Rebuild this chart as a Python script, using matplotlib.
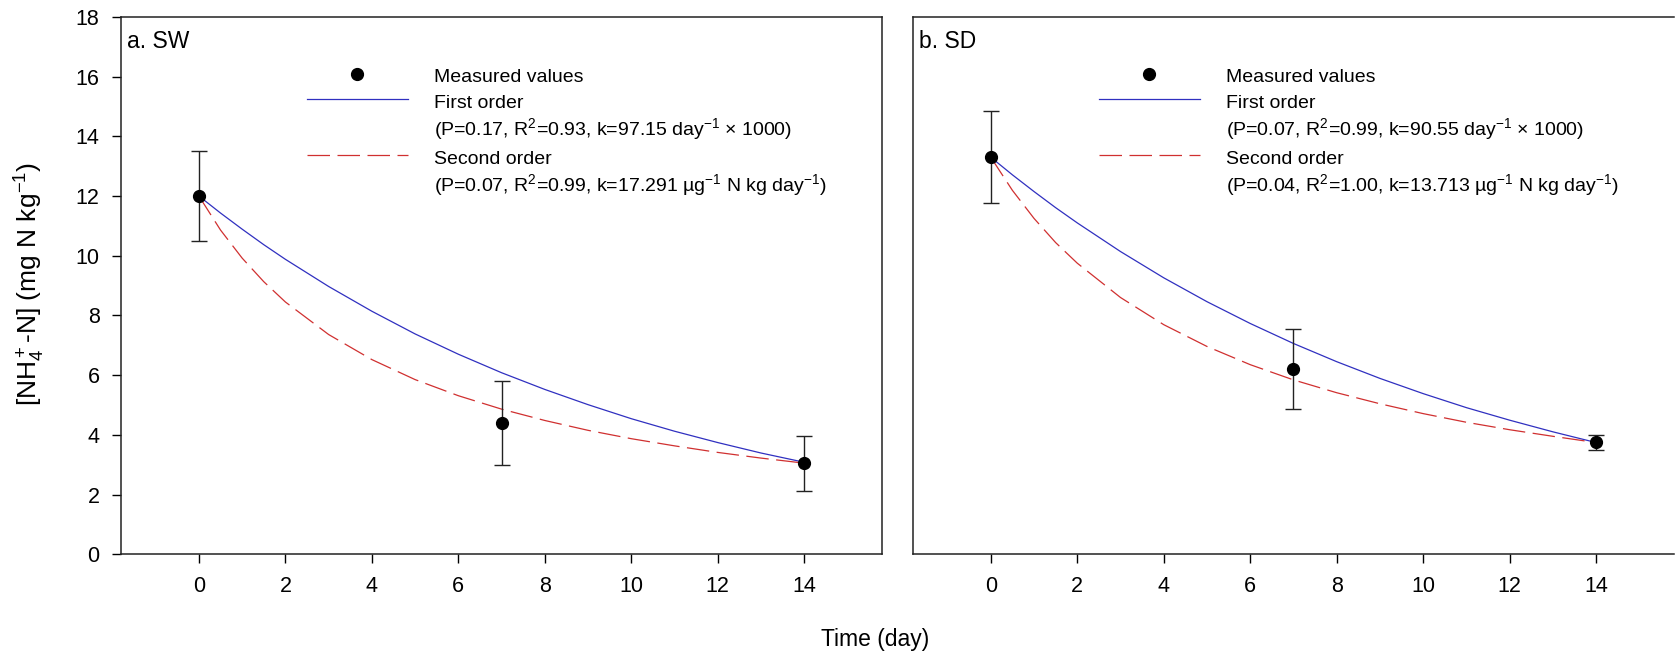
import numpy as np
import matplotlib
matplotlib.use("Agg")
import matplotlib.pyplot as plt
from matplotlib.lines import Line2D

plt.rcParams["font.family"] = ["Liberation Sans", "DejaVu Sans"]
plt.rcParams["mathtext.fontset"] = "custom"
plt.rcParams["mathtext.rm"] = "Liberation Sans"
plt.rcParams["mathtext.it"] = "Liberation Sans:italic"
plt.rcParams["mathtext.default"] = "regular"

# ── Data ───────────────────────────────────────────────────────────────────
days = [0, 7, 14]

sw_mean = [12.0, 4.4, 3.05]
sw_err = [1.5, 1.4, 0.92]
sd_mean = [13.3, 6.2, 3.75]
sd_err = [1.55, 1.35, 0.25]

# fitted curves
t_fit = [0, 0.5, 1, 1.5, 2, 3, 4, 5, 6, 7, 8, 9, 10, 11, 12, 13, 14]
sw_first = [12.00, 11.43, 10.89, 10.37, 9.88, 8.97, 8.14, 7.38, 6.70, 6.08,
            5.52, 5.01, 4.54, 4.12, 3.74, 3.39, 3.08]
sw_second = [12.00, 10.86, 9.92, 9.13, 8.45, 7.36, 6.52, 5.85, 5.31, 4.86,
             4.48, 4.15, 3.87, 3.63, 3.41, 3.22, 3.05]
sd_first = [13.30, 12.71, 12.15, 11.61, 11.10, 10.14, 9.26, 8.46, 7.73, 7.06,
            6.45, 5.89, 5.38, 4.91, 4.49, 4.10, 3.74]
sd_second = [13.30, 12.19, 11.25, 10.44, 9.75, 8.60, 7.69, 6.96, 6.35, 5.84,
             5.41, 5.04, 4.71, 4.42, 4.17, 3.95, 3.74]

panel_titles = ["a. SW", "b. SD"]
first_stats = [r"(P=0.17, R$^{2}$=0.93, k=97.15 day$^{-1}$ × 1000)",
               r"(P=0.07, R$^{2}$=0.99, k=90.55 day$^{-1}$ × 1000)"]
second_stats = [r"(P=0.07, R$^{2}$=0.99, k=17.291 µg$^{-1}$ N kg day$^{-1}$)",
                r"(P=0.04, R$^{2}$=1.00, k=13.713 µg$^{-1}$ N kg day$^{-1}$)"]

# ── Plot ───────────────────────────────────────────────────────────────────
blue = "#3030c0"
red = "#d03030"

fig = plt.figure(figsize=(16.77, 6.52), dpi=100)
ax1 = fig.add_axes([0.0722, 0.150, 0.4538, 0.824])
ax2 = fig.add_axes([0.5444, 0.150, 0.4538, 0.824])

panels = [(ax1, sw_mean, sw_err, sw_first, sw_second),
          (ax2, sd_mean, sd_err, sd_first, sd_second)]

for i, (ax, mean, err, first, second) in enumerate(panels):
    ax.plot(t_fit, first, color=blue, linewidth=0.9, zorder=2)
    ax.plot(t_fit, second, color=red, linewidth=0.9, dashes=(18, 6), zorder=2)
    ax.errorbar(days, mean, yerr=err, fmt="o", color="black", ecolor="#222222",
                markersize=8.5, elinewidth=1.0, capsize=5.5, capthick=1.0,
                zorder=3)

    ax.set_xlim(-1.8, 15.8)
    ax.set_ylim(0, 18)
    ax.set_xticks(np.arange(0, 15, 2))
    ax.set_yticks(np.arange(0, 19, 2))
    ax.tick_params(axis="both", direction="out", length=6.5, width=1.0,
                   labelsize=15.5, pad=9)
    for sp in ax.spines.values():
        sp.set_linewidth(1.1)
        sp.set_color("#222222")

    ax.text(0.008, 0.975, panel_titles[i], transform=ax.transAxes,
            fontsize=16.5, ha="left", va="top")

    handles = [
        Line2D([], [], marker="o", linestyle="none", color="black", markersize=8.5),
        Line2D([], [], color=blue, linewidth=0.9),
        Line2D([], [], linestyle="none"),
        Line2D([], [], color=red, linewidth=0.9, dashes=(18, 6)),
        Line2D([], [], linestyle="none"),
    ]
    labels = ["Measured values", "First order", first_stats[i],
              "Second order", second_stats[i]]
    ax.legend(handles, labels, loc="upper left", bbox_to_anchor=(0.244, 0.910),
              frameon=False, fontsize=14, handlelength=5.2, handletextpad=1.35,
              handleheight=1.3, labelspacing=0.22, borderpad=0,
              borderaxespad=0, numpoints=1)

ax2.tick_params(axis="y", left=False, labelleft=False)
ax2.spines["right"].set_visible(False)

fig.text(0.0178, 0.564, r"[NH$_4^+$-N] (mg N kg$^{-1}$)", rotation=90,
         ha="center", va="center", fontsize=19)
fig.text(0.522, 0.019, "Time (day)", ha="center", va="center", fontsize=16.5)

fig.savefig("out.png", dpi=100)
